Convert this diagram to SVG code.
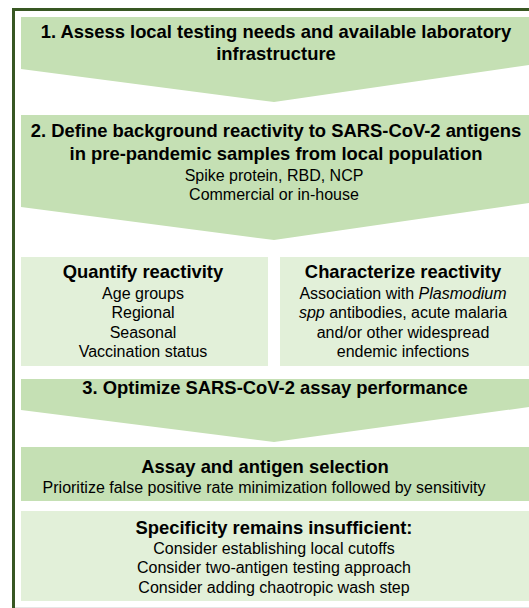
<svg xmlns="http://www.w3.org/2000/svg" width="529" height="608" viewBox="0 0 529 608">
  <style>
    .frame { fill: none; stroke: #385723; stroke-width: 3; }
    .step { fill: #c5e0b4; }
    .panel { fill: #e2f0d9; }
    text { font-family: "Liberation Sans", Arial, sans-serif; fill: #000; text-anchor: middle; }
    .h { font-weight: bold; font-size: 18.4px; }
    .b { font-size: 16px; }
  </style>
  <rect width="529" height="608" fill="#ffffff"/>
  <!-- outer frame, clipped by the page on the right and bottom -->
  <rect class="frame" x="13.5" y="9.5" width="540" height="620"/>
  <line x1="15" y1="607.5" x2="529" y2="607.5" stroke="#e6e6e6" stroke-width="1"/>

  <g id="step1">
    <polygon class="step" points="21,17 529,17 529,65 274,102 21,69"/>
    <text class="h" x="276" y="38">1. Assess local testing needs and available laboratory</text>
    <text class="h" x="276" y="60">infrastructure</text>
  </g>

  <g id="step2">
    <polygon class="step" points="21,115 529,115 529,203 274,240 21,207"/>
    <text class="h" x="276" y="137">2. Define background reactivity to SARS-CoV-2 antigens</text>
    <text class="h" x="276" y="160">in pre-pandemic samples from local population</text>
    <text class="b" x="274" y="181">Spike protein, RBD, NCP</text>
    <text class="b" x="274" y="200">Commercial or in-house</text>
  </g>

  <g id="quantify">
    <rect class="panel" x="21" y="257" width="247" height="109"/>
    <text class="h" x="143" y="278">Quantify reactivity</text>
    <text class="b" x="143" y="299">Age groups</text>
    <text class="b" x="143" y="318">Regional</text>
    <text class="b" x="143" y="338">Seasonal</text>
    <text class="b" x="143" y="357">Vaccination status</text>
  </g>

  <g id="characterize">
    <rect class="panel" x="280" y="257" width="260" height="109"/>
    <text class="h" x="403" y="278">Characterize reactivity</text>
    <text class="b" x="403" y="299">Association with <tspan font-style="italic">Plasmodium</tspan></text>
    <text class="b" x="403" y="318"><tspan font-style="italic">spp</tspan> antibodies, acute malaria</text>
    <text class="b" x="403" y="338">and/or other widespread</text>
    <text class="b" x="403" y="357">endemic infections</text>
  </g>

  <g id="step3">
    <polygon class="step" points="21,379 529,379 529,407 274,442 21,410"/>
    <text class="h" x="275" y="394">3. Optimize SARS-CoV-2 assay performance</text>
  </g>

  <g id="assay">
    <rect class="step" x="21" y="447" width="520" height="54"/>
    <text class="h" x="265" y="473">Assay and antigen selection</text>
    <text class="b" x="264" y="493">Prioritize false positive rate minimization followed by sensitivity</text>
  </g>

  <g id="specificity">
    <rect class="panel" x="21" y="511" width="520" height="90"/>
    <text class="h" x="274" y="534">Specificity remains insufficient:</text>
    <text class="b" x="274" y="554">Consider establishing local cutoffs</text>
    <text class="b" x="274" y="573">Consider two-antigen testing approach</text>
    <text class="b" x="274" y="593">Consider adding chaotropic wash step</text>
  </g>
</svg>
